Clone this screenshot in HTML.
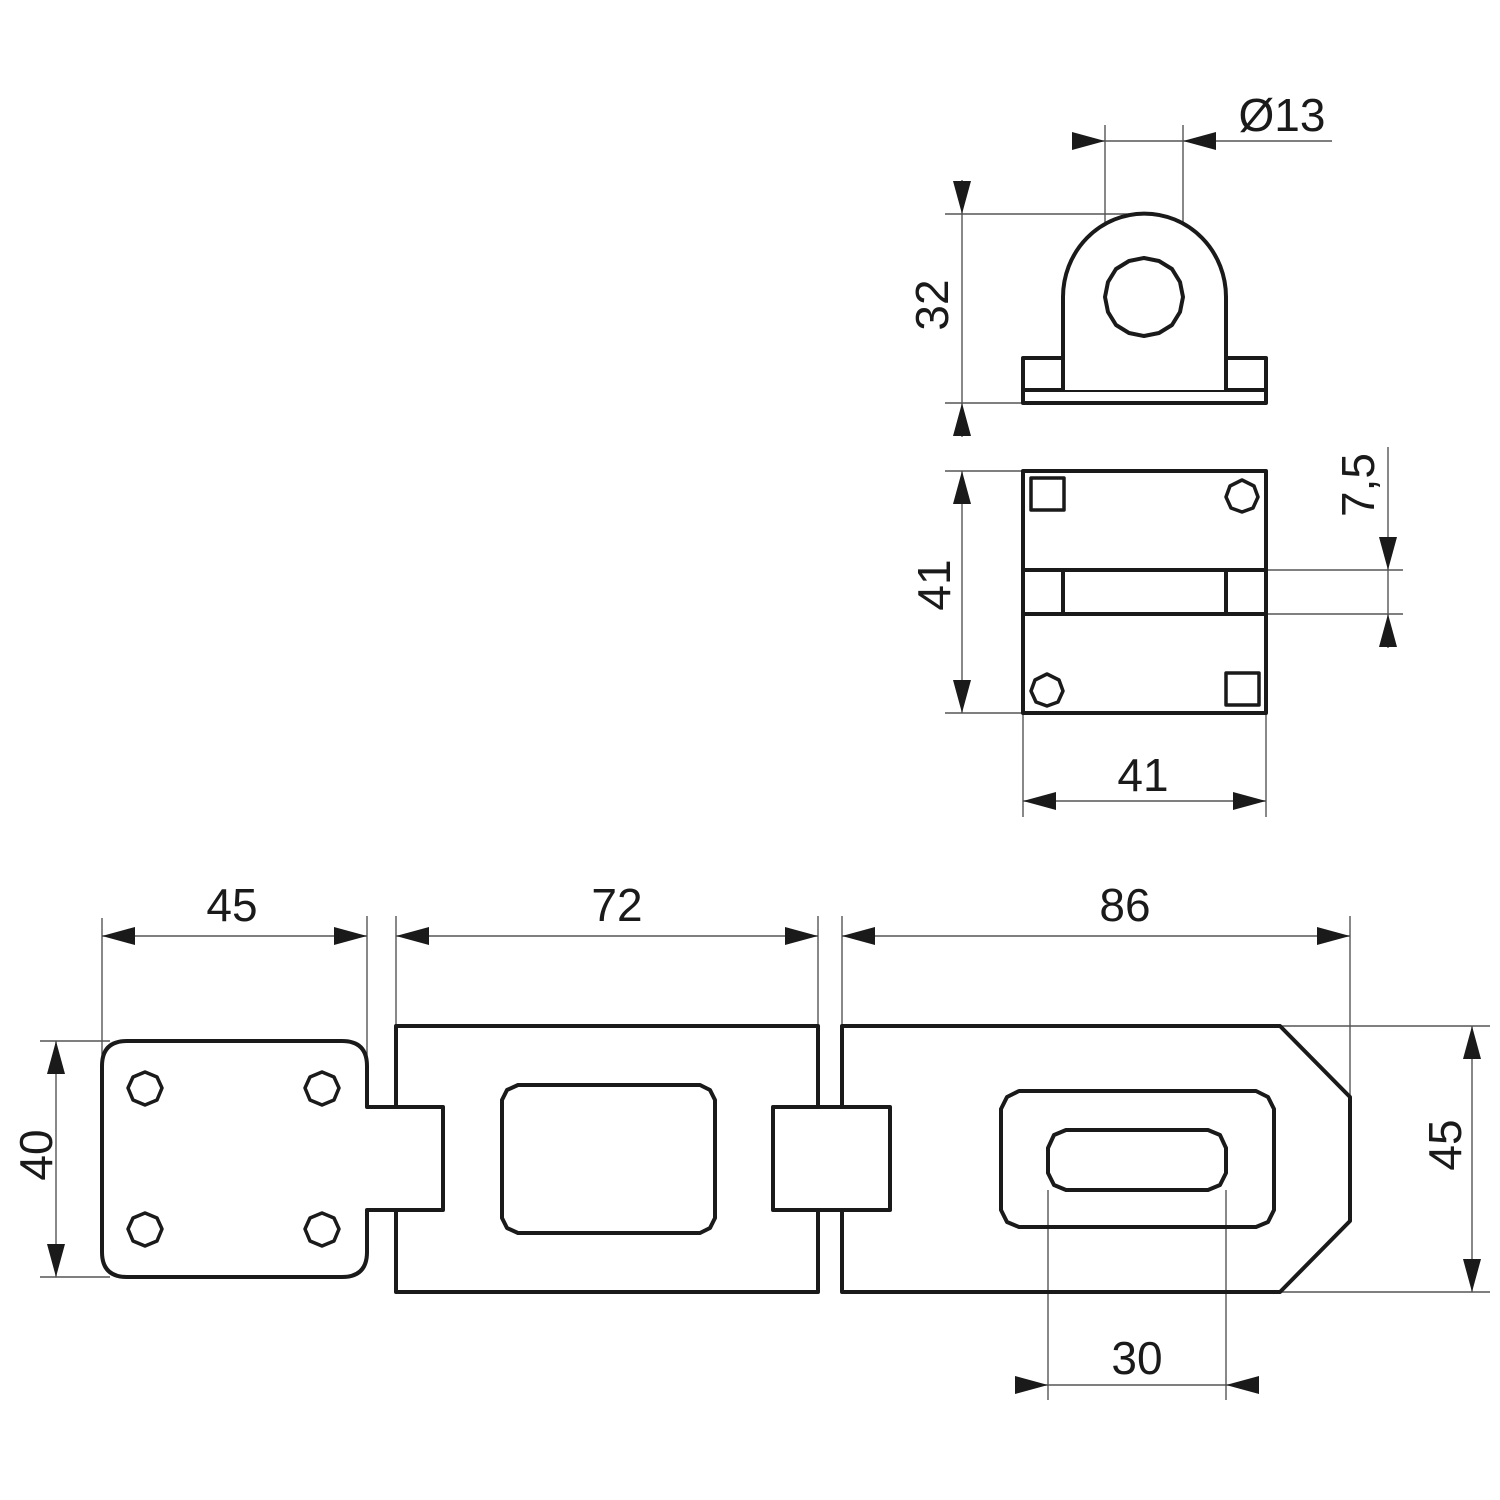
<!DOCTYPE html>
<html><head><meta charset="utf-8"><style>
html,body{margin:0;padding:0;background:#fff;}
svg{display:block;}
text{font-family:"Liberation Sans",sans-serif;font-size:46px;fill:#1a1a1a;}
</style></head><body>
<svg width="1500" height="1500" viewBox="0 0 1500 1500" xmlns="http://www.w3.org/2000/svg">
<g stroke="#555" stroke-width="1.4" fill="none">
  <line x1="1105" y1="125" x2="1105" y2="297"/>
  <line x1="1183" y1="125" x2="1183" y2="297"/>
  <line x1="1072" y1="141" x2="1332" y2="141"/>
  <line x1="945" y1="214" x2="1144" y2="214"/>
  <line x1="945" y1="403" x2="1023" y2="403"/>
  <line x1="962" y1="180" x2="962" y2="437"/>
  <line x1="945" y1="471" x2="1023" y2="471"/>
  <line x1="945" y1="713" x2="1023" y2="713"/>
  <line x1="962" y1="471" x2="962" y2="713"/>
  <line x1="1266" y1="570" x2="1403" y2="570"/>
  <line x1="1266" y1="614" x2="1403" y2="614"/>
  <line x1="1388" y1="447" x2="1388" y2="648"/>
  <line x1="1023" y1="713" x2="1023" y2="817"/>
  <line x1="1266" y1="713" x2="1266" y2="817"/>
  <line x1="1023" y1="801" x2="1266" y2="801"/>
  <line x1="102" y1="918" x2="102" y2="1060"/>
  <line x1="367" y1="916" x2="367" y2="1105"/>
  <line x1="102" y1="936" x2="367" y2="936"/>
  <line x1="396" y1="916" x2="396" y2="1026"/>
  <line x1="818" y1="916" x2="818" y2="1026"/>
  <line x1="396" y1="936" x2="818" y2="936"/>
  <line x1="842" y1="916" x2="842" y2="1026"/>
  <line x1="1350" y1="916" x2="1350" y2="1097"/>
  <line x1="842" y1="936" x2="1350" y2="936"/>
  <line x1="40" y1="1041" x2="110" y2="1041"/>
  <line x1="40" y1="1277" x2="110" y2="1277"/>
  <line x1="56" y1="1041" x2="56" y2="1277"/>
  <line x1="1282" y1="1026" x2="1490" y2="1026"/>
  <line x1="1282" y1="1292" x2="1490" y2="1292"/>
  <line x1="1472" y1="1026" x2="1472" y2="1292"/>
  <line x1="1048" y1="1190" x2="1048" y2="1400"/>
  <line x1="1226" y1="1190" x2="1226" y2="1400"/>
  <line x1="1015" y1="1385" x2="1259" y2="1385"/>
</g>
<g fill="#1a1a1a" stroke="none">
  <polygon points="1105,141 1072,132 1072,150"/>
  <polygon points="1183,141 1216,132 1216,150"/>
  <polygon points="962,214 953,181 971,181"/>
  <polygon points="962,403 953,436 971,436"/>
  <polygon points="962,471 953,504 971,504"/>
  <polygon points="962,713 953,680 971,680"/>
  <polygon points="1388,570 1379,537 1397,537"/>
  <polygon points="1388,614 1379,647 1397,647"/>
  <polygon points="1023,801 1056,792 1056,810"/>
  <polygon points="1266,801 1233,792 1233,810"/>
  <polygon points="102,936 135,927 135,945"/>
  <polygon points="367,936 334,927 334,945"/>
  <polygon points="396,936 429,927 429,945"/>
  <polygon points="818,936 785,927 785,945"/>
  <polygon points="842,936 875,927 875,945"/>
  <polygon points="1350,936 1317,927 1317,945"/>
  <polygon points="56,1041 47,1074 65,1074"/>
  <polygon points="56,1277 47,1244 65,1244"/>
  <polygon points="1472,1026 1463,1059 1481,1059"/>
  <polygon points="1472,1292 1463,1259 1481,1259"/>
  <polygon points="1048,1385 1015,1376 1015,1394"/>
  <polygon points="1226,1385 1259,1376 1259,1394"/>
</g>
<g stroke="#1a1a1a" stroke-width="4" fill="none" stroke-linejoin="round">
  <rect x="1023" y="358" width="243" height="45"/>
  <line x1="1023" y1="390" x2="1266" y2="390"/>
  <path d="M1063,390 L1063,297 A81,83 0 0 1 1226,297 L1226,390" fill="#fff"/>
  <polygon points="1144,258 1159,261 1172,269 1180,282 1183,297 1180,312 1172,325 1159,333 1144,336 1129,333 1116,325 1108,312 1105,297 1108,282 1116,269 1129,261"/>
  <rect x="1023" y="471" width="243" height="242"/>
  <line x1="1023" y1="570" x2="1266" y2="570"/>
  <line x1="1023" y1="614" x2="1266" y2="614"/>
  <line x1="1063" y1="570" x2="1063" y2="614"/>
  <line x1="1226" y1="570" x2="1226" y2="614"/>
  <rect x="1031" y="478" width="33" height="32" stroke-width="3.5"/>
  <rect x="1226" y="673" width="33" height="32" stroke-width="3.5"/>
  <polygon points="1242,480 1254,486 1258,497 1253,508 1242,512 1231,508 1226,497 1230,486" stroke-width="3.5"/>
  <polygon points="1047,674 1059,680 1063,691 1058,702 1047,706 1036,702 1031,691 1035,680" stroke-width="3.5"/>
  <path d="M127,1041 L342,1041 Q367,1041 367,1066 L367,1107 L443,1107 L443,1210 L367,1210 L367,1252 Q367,1277 342,1277 L127,1277 Q102,1277 102,1252 L102,1066 Q102,1041 127,1041 Z"/>
  <g stroke-width="3.5">
    <polygon points="145,1072 157,1077 162,1088 157,1100 145,1105 133,1100 128,1088 133,1077"/>
    <polygon points="322,1072 334,1077 339,1088 334,1100 322,1105 310,1100 305,1088 310,1077"/>
    <polygon points="145,1213 157,1218 162,1229 157,1241 145,1246 133,1241 128,1229 133,1218"/>
    <polygon points="322,1213 334,1218 339,1229 334,1241 322,1246 310,1241 305,1229 310,1218"/>
  </g>
  <path d="M396,1107 L396,1026 L818,1026 L818,1107 M818,1210 L818,1292 L396,1292 L396,1210"/>
  <path d="M518,1085 L700,1085 L710,1090 L715,1100 L715,1218 L710,1228 L700,1233 L518,1233 L507,1228 L502,1218 L502,1100 L507,1090 Z"/>
  <rect x="773" y="1107" width="117" height="103"/>
  <path d="M842,1107 L842,1026 L1280,1026 L1350,1097 L1350,1221 L1280,1292 L842,1292 L842,1210"/>
  <path d="M1019,1091 L1256,1091 L1268,1097 L1274,1109 L1274,1210 L1268,1222 L1256,1227 L1019,1227 L1007,1222 L1001,1210 L1001,1109 L1007,1097 Z"/>
  <path d="M1066,1130 L1208,1130 L1220,1135 L1226,1148 L1226,1173 L1220,1185 L1208,1190 L1066,1190 L1054,1185 L1048,1173 L1048,1148 L1054,1135 Z"/>
</g>
<text x="1282" y="131" text-anchor="middle">Ø13</text>
<text transform="translate(948,305) rotate(-90)" text-anchor="middle">32</text>
<text transform="translate(950,585) rotate(-90)" text-anchor="middle">41</text>
<text transform="translate(1374,485) rotate(-90)" text-anchor="middle">7,5</text>
<text x="1143" y="791" text-anchor="middle">41</text>
<text x="232" y="921" text-anchor="middle">45</text>
<text x="617" y="921" text-anchor="middle">72</text>
<text x="1125" y="921" text-anchor="middle">86</text>
<text transform="translate(52,1155) rotate(-90)" text-anchor="middle">40</text>
<text transform="translate(1461,1145) rotate(-90)" text-anchor="middle">45</text>
<text x="1137" y="1374" text-anchor="middle">30</text>
</svg>
</body></html>
